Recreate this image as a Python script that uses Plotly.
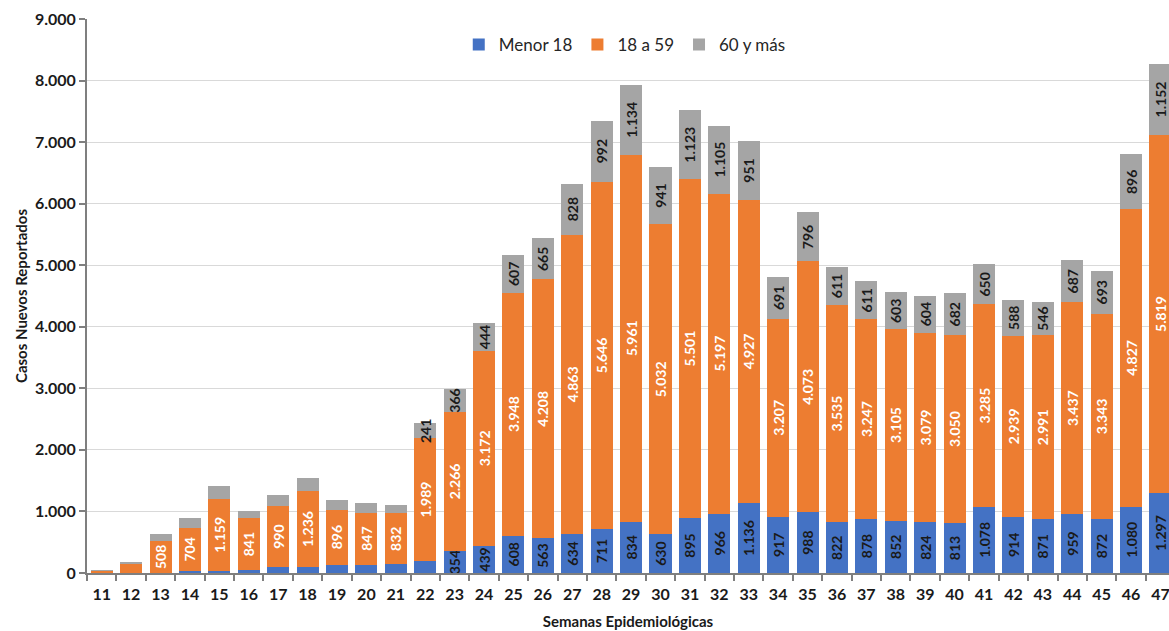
import plotly.graph_objects as go

semanas = [str(w) for w in range(11, 48)]
menor18 = [3, 5, 8, 32, 40, 49, 97, 97, 135, 135, 141, 200, 354, 439, 608, 563, 634, 711, 834, 630,
           895, 966, 1136, 917, 988, 822, 878, 852, 824, 813, 1078, 914, 871, 959, 872, 1080, 1297]
de18a59 = [30, 152, 508, 704, 1159, 841, 990, 1236, 896, 847, 832, 1989, 2266, 3172, 3948, 4208, 4863,
           5646, 5961, 5032, 5501, 5197, 4927, 3207, 4073, 3535, 3247, 3105, 3079, 3050, 3285, 2939,
           2991, 3437, 3343, 4827, 5819]
mas60 = [15, 27, 125, 157, 220, 120, 180, 215, 150, 160, 135, 241, 366, 444, 607, 665, 828, 992, 1134,
         941, 1123, 1105, 951, 691, 796, 611, 611, 603, 604, 682, 650, 588, 546, 687, 693, 896, 1152]

def fmt(v):
    return f"{v:,}".replace(",", ".")

# which weeks show labels
lab_menor = [fmt(v) if int(s) >= 23 else "" for s, v in zip(semanas, menor18)]
lab_1859 = [fmt(v) if int(s) >= 13 else "" for s, v in zip(semanas, de18a59)]
lab_60 = [fmt(v) if int(s) >= 22 else "" for s, v in zip(semanas, mas60)]

FONT = "Lato"
LBL = 14
fig = go.Figure()
fig.add_trace(go.Bar(x=semanas, y=menor18, name="Menor 18", marker_color="#4472C4",
                     marker_line_width=0, text=lab_menor, textposition="inside",
                     insidetextanchor="middle", textangle=-90,
                     textfont=dict(family=FONT, size=LBL, color="#1a1a1a", weight="bold")))
fig.add_trace(go.Bar(x=semanas, y=de18a59, name="18 a 59", marker_color="#ED7D31",
                     marker_line_width=0, text=lab_1859, textposition="inside",
                     insidetextanchor="middle", textangle=-90,
                     textfont=dict(family=FONT, size=LBL, color="white", weight="bold")))
fig.add_trace(go.Bar(x=semanas, y=mas60, name="60 y más", marker_color="#A5A5A5",
                     marker_line_width=0, text=lab_60, textposition="inside",
                     insidetextanchor="middle", textangle=-90,
                     textfont=dict(family=FONT, size=LBL, color="#1a1a1a", weight="bold")))

fig.update_layout(
    width=1169, height=631,
    barmode="stack", bargap=0.25,
    separators=",.",
    paper_bgcolor="white", plot_bgcolor="white",
    margin=dict(l=87, r=0, t=19, b=58),
    font=dict(family=FONT, color="#1a1a1a"),
    uniformtext=dict(mode="show", minsize=LBL),
    legend=dict(orientation="h", x=0.497, y=0.953, xanchor="center", yanchor="middle",
                font=dict(family=FONT, size=17, color="#262626"),
                traceorder="normal", itemwidth=30, bgcolor="rgba(0,0,0,0)"),
    xaxis=dict(type="category", range=[-0.5, 36.29], showline=True, linecolor="#7f7f7f",
               linewidth=2, ticks="outside", tickson="boundaries", ticklen=6,
               tickcolor="#7f7f7f", tickwidth=2, showgrid=False, ticklabelstandoff=6,
               tickfont=dict(family=FONT, size=16, color="#1a1a1a", weight="bold"),
               title=dict(text="Semanas Epidemiológicas", standoff=14,
                          font=dict(family=FONT, size=15, color="#1a1a1a", weight="bold"))),
    yaxis=dict(range=[0, 9000], dtick=1000, tickformat=",", showline=True,
               linecolor="#7f7f7f", linewidth=2, ticks="outside", ticklen=6,
               tickcolor="#7f7f7f", tickwidth=2, showgrid=True, gridcolor="#D9D9D9",
               gridwidth=1, zeroline=False,
               tickfont=dict(family=FONT, size=16, color="#1a1a1a", weight="bold"),
               title=dict(text="Casos Nuevos Reportados", standoff=4,
                          font=dict(family=FONT, size=15, color="#1a1a1a", weight="bold"))),
)

fig.write_html("out.html", config={"displayModeBar": False},
               post_script="document.body.style.margin='0';document.body.style.overflow='hidden';")
